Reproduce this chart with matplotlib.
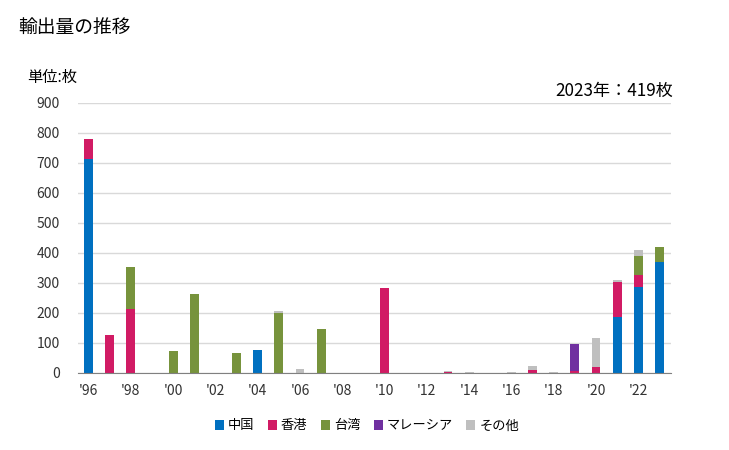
import numpy as np
import matplotlib.pyplot as plt

plt.rcParams['font.family'] = ['Noto Sans CJK JP', 'DejaVu Sans']

years = list(range(1996, 2024))
# 値は画像から読み取り（単位: 枚）
china = [712, 0, 0, 0, 0, 0, 0, 0, 78, 0, 0, 0, 0, 0, 0, 0, 0, 0, 0, 0, 0, 0, 0, 0, 0, 186, 286, 371]
hongkong = [69, 128, 214, 0, 0, 0, 0, 0, 0, 0, 0, 0, 0, 0, 284, 0, 0, 4, 0, 0, 0, 11, 0, 8, 21, 118, 42, 0]
taiwan = [0, 0, 140, 0, 74, 264, 0, 68, 0, 201, 0, 148, 0, 0, 0, 0, 0, 0, 0, 0, 0, 0, 0, 0, 0, 0, 63, 48]
malaysia = [0, 0, 0, 0, 0, 0, 0, 0, 0, 0, 0, 0, 0, 0, 0, 0, 0, 0, 0, 0, 0, 0, 0, 90, 0, 0, 0, 0]
others = [0, 0, 0, 0, 0, 0, 0, 0, 0, 7, 14, 0, 0, 0, 0, 0, 0, 3, 4, 0, 4, 13, 4, 0, 97, 7, 20, 0]

series = [
    ('中国', china, '#0070C0'),
    ('香港', hongkong, '#D11B64'),
    ('台湾', taiwan, '#77933C'),
    ('マレーシア', malaysia, '#7030A0'),
    ('その他', others, '#BFBFBF'),
]

fig = plt.figure(figsize=(7.29, 4.5), dpi=100)
ax = fig.add_axes([78 / 729, 1 - 373 / 450, 593 / 729, 270 / 450])

bottom = np.zeros(len(years))
for name, vals, col in series:
    ax.bar(years, vals, width=0.42, bottom=bottom, color=col, label=name, zorder=3)
    bottom += np.array(vals)

ax.set_xlim(1995.5, 2023.55)
ax.set_ylim(0, 900)
ax.set_yticks(range(0, 901, 100))
ax.yaxis.grid(True, color='#D9D9D9', linewidth=1, zorder=0)
ax.set_xticks(years[::2])
ax.set_xticklabels(["'%02d" % (y % 100) for y in years[::2]])
ax.tick_params(axis='both', length=0, labelsize=10, colors='#333333')
ax.tick_params(axis='x', pad=8)
ax.tick_params(axis='y', pad=13)
for s in ['top', 'right', 'left']:
    ax.spines[s].set_visible(False)
ax.spines['bottom'].set_color('#808080')
ax.spines['bottom'].set_zorder(4)

fig.text(18 / 729, 1 - 27 / 450, '輸出量の推移', fontsize=13.5, va='center', ha='left')
fig.text(27 / 729, 1 - 77 / 450, '単位:枚', fontsize=11, va='center', ha='left')
fig.text(673 / 729, 1 - 91 / 450, '2023年：419枚', fontsize=12.3, va='center', ha='right')

handles, labels = ax.get_legend_handles_labels()
fig.legend(handles, labels, loc='center', bbox_to_anchor=(367 / 729, 1 - 426 / 450),
           ncol=5, frameon=False, fontsize=9.5, handlelength=0.7, handleheight=0.7,
           handletextpad=0.3, columnspacing=1.0)

fig.savefig('out.png', dpi=100)
